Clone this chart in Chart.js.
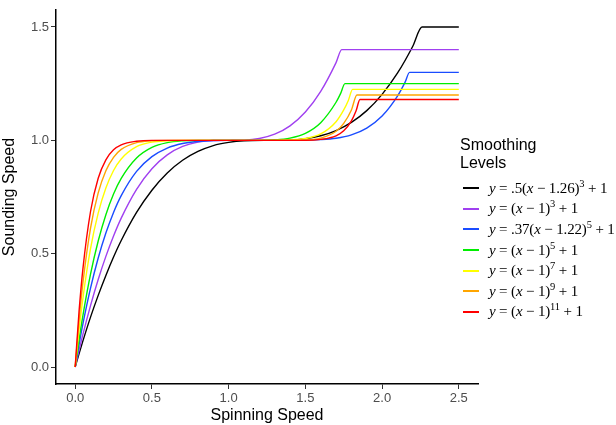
<!DOCTYPE html>
<html>
<head>
<meta charset="utf-8">
<script src="https://cdn.jsdelivr.net/npm/chart.js@4"></script>
<style>
  body { margin: 0; background: #fff; }
  #wrap { position: relative; width: 616px; height: 425px; overflow: hidden; }
  #legend { position: absolute; left: 460px; top: 136px; font-family: "Liberation Sans", Arial, sans-serif; }
  #legend .title { font-size: 16px; line-height: 18px; color: #000; margin-bottom: 6px; }
  #legend .row { height: 20.6px; display: flex; align-items: center; }
  #legend .key { width: 16px; height: 2px; margin-left: 3px; margin-right: 10px; }
  #legend .eq { font-family: "Liberation Serif", serif; font-size: 15px; letter-spacing: -0.15px; color: #000; white-space: nowrap; }
  #legend .eq sup { font-size: 10.5px; vertical-align: 6px; line-height: 0; }
</style>
</head>
<body>
<div id="wrap">
  <canvas id="myChart" width="616" height="425"></canvas>
  <div id="legend"><div class="title">Smoothing<br>Levels</div></div>
</div>
<script>
// points, [x, y]
const halfCubic = [[0,0],[0.025,0.058],[0.05,0.114],[0.1,0.22],[0.15,0.316],[0.2,0.404],[0.25,0.485],[0.3,0.558],[0.4,0.682],[0.5,0.78],[0.6,0.856],[0.7,0.912],[0.8,0.951],[0.9,0.977],[1.0,0.991],[1.1,0.998],[1.26,1.0],[1.4,1.001],[1.5,1.007],[1.6,1.02],[1.7,1.043],[1.8,1.079],[1.9,1.131],[2.0,1.203],[2.1,1.296],[2.2,1.415],[2.26,1.5],[2.5,1.5]];
const cubic = [[0,0],[0.025,0.073],[0.05,0.143],[0.1,0.271],[0.15,0.386],[0.2,0.488],[0.25,0.578],[0.3,0.657],[0.4,0.784],[0.5,0.875],[0.6,0.936],[0.7,0.973],[0.8,0.992],[0.9,0.999],[1.0,1.0],[1.1,1.001],[1.2,1.008],[1.3,1.027],[1.4,1.064],[1.5,1.125],[1.6,1.216],[1.7,1.343],[1.737,1.4],[2.5,1.4]];
const scaledQuintic = [[0,0],[0.025,0.098],[0.05,0.189],[0.1,0.348],[0.15,0.481],[0.2,0.591],[0.25,0.682],[0.3,0.756],[0.4,0.863],[0.5,0.928],[0.6,0.966],[0.7,0.986],[0.8,0.995],[0.9,0.999],[1.0,1.0],[1.22,1.0],[1.4,1.0],[1.5,1.001],[1.6,1.003],[1.7,1.009],[1.8,1.024],[1.9,1.054],[2.0,1.107],[2.1,1.195],[2.15,1.257],[2.179,1.3],[2.5,1.3]];
const quintic = [[0,0],[0.025,0.119],[0.05,0.226],[0.1,0.41],[0.15,0.556],[0.2,0.672],[0.25,0.763],[0.3,0.832],[0.4,0.922],[0.5,0.969],[0.6,0.99],[0.7,0.998],[0.8,1.0],[1.0,1.0],[1.2,1.0],[1.3,1.002],[1.4,1.01],[1.5,1.031],[1.6,1.078],[1.7,1.168],[1.73,1.207],[1.758,1.25],[2.5,1.25]];
const septic = [[0,0],[0.025,0.162],[0.05,0.302],[0.1,0.522],[0.15,0.679],[0.2,0.79],[0.25,0.867],[0.3,0.918],[0.4,0.972],[0.5,0.992],[0.6,0.998],[0.7,1.0],[1.0,1.0],[1.3,1.0],[1.4,1.002],[1.5,1.008],[1.6,1.028],[1.7,1.082],[1.75,1.134],[1.78,1.176],[1.808,1.225],[2.5,1.225]];
const nonic = [[0,0],[0.025,0.204],[0.05,0.37],[0.1,0.613],[0.15,0.768],[0.2,0.866],[0.25,0.925],[0.3,0.96],[0.4,0.99],[0.5,0.998],[0.6,1.0],[1.0,1.0],[1.5,1.002],[1.6,1.01],[1.7,1.04],[1.75,1.075],[1.8,1.134],[1.836,1.2],[2.5,1.2]];
const undecic = [[0,0],[0.025,0.243],[0.05,0.431],[0.1,0.686],[0.15,0.833],[0.2,0.914],[0.25,0.958],[0.3,0.98],[0.4,0.996],[0.5,1.0],[1.0,1.0],[1.5,1.0],[1.6,1.004],[1.7,1.02],[1.75,1.042],[1.8,1.086],[1.83,1.129],[1.856,1.18],[2.5,1.18]];

const series = [halfCubic, cubic, scaledQuintic, quintic, septic, nonic, undecic];
const colors = ["#000000", "#a040f0", "#1a4cff", "#00ee00", "#ffff00", "#ffa500", "#ff0000"];
const coefs = [".5", "", ".37", "", "", "", ""];
const shifts = ["1.26", "1", "1.22", "1", "1", "1", "1"];
const powers = ["3", "3", "5", "5", "7", "9", "11"];

const xTicks = [0, 0.5, 1.0, 1.5, 2.0, 2.5];
const yTicks = [0, 0.5, 1.0, 1.5];

const datasets = [];
for (let i = 0; i < series.length; i++) {
  datasets.push({
    label: "y = " + coefs[i] + "(x - " + shifts[i] + ")^" + powers[i] + " + 1",
    data: series[i].map(p => ({ x: p[0], y: p[1] })),
    borderColor: colors[i],
    borderWidth: 1.4,
    pointRadius: 0,
    fill: false,
    cubicInterpolationMode: "monotone",
    order: series.length - i,
  });
}

const tickFont = { family: "'Liberation Sans', Arial, sans-serif", size: 13 };
const titleFont = { family: "'Liberation Sans', Arial, sans-serif", size: 16 };

new Chart(document.getElementById("myChart"), {
  type: "line",
  data: { datasets: datasets },
  options: {
    responsive: false,
    animation: false,
    layout: { padding: { left: 0, right: 138, top: 10, bottom: 0 } },
    plugins: {
      legend: { display: false },
      tooltip: { enabled: false },
    },
    scales: {
      x: {
        type: "linear",
        min: -0.125,
        max: 2.625,
        afterBuildTicks: axis => { axis.ticks = xTicks.map(v => ({ value: v })); },
        afterFit: axis => { axis.height = 41; },
        ticks: {
          callback: v => v.toFixed(1),
          color: "#4d4d4d",
          font: tickFont,
          padding: 2,
          maxRotation: 0,
        },
        grid: { drawOnChartArea: false, drawTicks: true, tickLength: 5, color: "#333" },
        border: { display: true, color: "#000", width: 1.5 },
        title: { display: true, text: "Spinning Speed", color: "#000", font: titleFont, padding: { top: 0, bottom: 0 } },
      },
      y: {
        type: "linear",
        min: -0.075,
        max: 1.575,
        afterBuildTicks: axis => { axis.ticks = yTicks.map(v => ({ value: v })); },
        afterFit: axis => { axis.width = 56; },
        ticks: {
          callback: v => v.toFixed(1),
          color: "#4d4d4d",
          font: tickFont,
          padding: 2,
        },
        grid: { drawOnChartArea: false, drawTicks: true, tickLength: 5, color: "#333" },
        border: { display: true, color: "#000", width: 1.5 },
        title: { display: true, text: "Sounding Speed", color: "#000", font: titleFont, padding: { top: 0, bottom: 2 } },
      },
    },
  },
});

// legend with superscripts
const legend = document.getElementById("legend");
for (let i = 0; i < series.length; i++) {
  const row = document.createElement("div");
  row.className = "row";
  row.innerHTML = '<div class="key" style="background:' + colors[i] + '"></div>' +
    '<span class="eq"><i>y</i> = ' + coefs[i] + '(<i>x</i> \u2212 ' + shifts[i] + ')<sup>' + powers[i] + '</sup> + 1</span>';
  legend.appendChild(row);
}
</script>
</body>
</html>
